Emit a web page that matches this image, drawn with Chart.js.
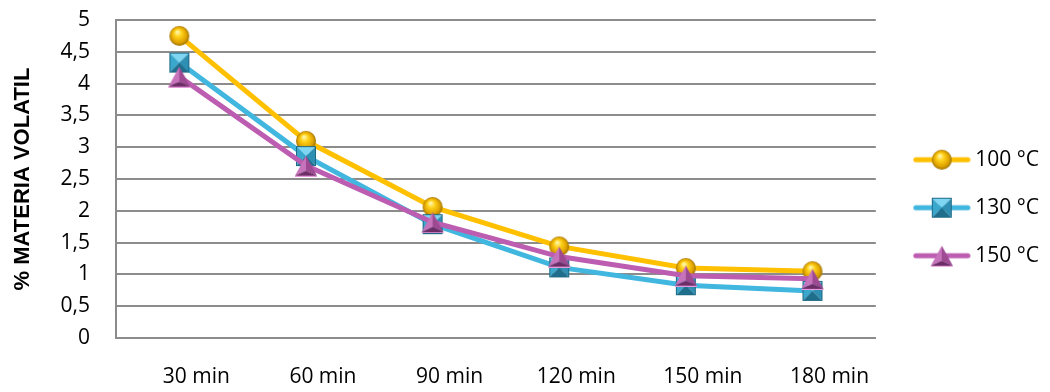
<!DOCTYPE html>
<html>
<head>
<meta charset="utf-8">
<script src="https://cdn.jsdelivr.net/npm/chart.js@4.4.1/dist/chart.umd.min.js"></script>
<style>
  html, body { margin: 0; padding: 0; background: #ffffff; }
  #wrap { position: relative; width: 1050px; height: 392px; }
</style>
</head>
<body>
<div id="wrap"><canvas id="c" width="1050" height="392"></canvas></div>
<script>
const categories = ['30 min', '60 min', '90 min', '120 min', '150 min', '180 min'];
const seriesNames = ['100 °C', '130 °C', '150 °C'];
const values100 = [4.75, 3.10, 2.06, 1.44, 1.10, 1.05];
const values130 = [4.33, 2.86, 1.79, 1.11, 0.83, 0.74];
const values150 = [4.11, 2.71, 1.82, 1.28, 0.98, 0.93];
const yTicks = [0, 0.5, 1, 1.5, 2, 2.5, 3, 3.5, 4, 4.5, 5];
const yTitle = '% MATERIA VOLATIL';

const colors = ['#FFC000', '#41B6DF', '#BD5DB1'];

function makeSphere() {
  const s = 22, c = document.createElement('canvas');
  c.width = s; c.height = s;
  const g = c.getContext('2d');
  const r = 10, cx = s / 2, cy = s / 2;
  const grad = g.createRadialGradient(cx - 2, cy - 4, 1, cx, cy, r);
  grad.addColorStop(0, '#FFF3A0');
  grad.addColorStop(0.3, '#FFD21A');
  grad.addColorStop(0.75, '#E0A300');
  grad.addColorStop(1, '#9C7200');
  g.fillStyle = grad;
  g.beginPath(); g.arc(cx, cy, r, 0, Math.PI * 2); g.fill();
  return c;
}
function makeSquare() {
  const s = 22, c = document.createElement('canvas');
  c.width = s; c.height = s;
  const g = c.getContext('2d');
  const a = 1, b = 21, m = 11;
  const tri = (pts, col) => { g.fillStyle = col; g.beginPath(); g.moveTo(pts[0], pts[1]); g.lineTo(pts[2], pts[3]); g.lineTo(pts[4], pts[5]); g.closePath(); g.fill(); };
  tri([a, a, b, a, m, m], '#7FD6F2');
  tri([a, a, a, b, m, m], '#3AA7CD');
  tri([b, a, b, b, m, m], '#2E8FB3');
  tri([a, b, b, b, m, m], '#1F6E8C');
  g.strokeStyle = '#1E6A86'; g.lineWidth = 1; g.strokeRect(a + 0.5, a + 0.5, b - a - 1, b - a - 1);
  return c;
}
function makeTriangle() {
  const w = 24, h = 22, c = document.createElement('canvas');
  c.width = w; c.height = h;
  const g = c.getContext('2d');
  const top = [12, 1], bl = [1, 21], br = [23, 21], ctr = [12, 16];
  const tri = (p1, p2, p3, col) => { g.fillStyle = col; g.beginPath(); g.moveTo(p1[0], p1[1]); g.lineTo(p2[0], p2[1]); g.lineTo(p3[0], p3[1]); g.closePath(); g.fill(); };
  tri(top, bl, ctr, '#C773BC');
  tri(top, br, ctr, '#9E4A93');
  tri(bl, br, ctr, '#6E2D66');
  g.strokeStyle = '#E49ADB'; g.lineWidth = 1; g.beginPath(); g.moveTo(1, 21.5); g.lineTo(23, 21.5); g.stroke();
  return c;
}
const markers = [makeSphere(), makeSquare(), makeTriangle()];

const ICON_W = 74, ICON_MARGIN = 16;
function makeLegendIcon(i) {
  const h = 24, c = document.createElement('canvas');
  c.width = ICON_W; c.height = h;
  const g = c.getContext('2d');
  g.strokeStyle = colors[i]; g.lineWidth = 5; g.lineCap = 'round';
  g.beginPath(); g.moveTo(ICON_MARGIN + 3, h / 2); g.lineTo(ICON_W - 3, h / 2); g.stroke();
  const m = markers[i];
  const cx = ICON_MARGIN + (ICON_W - ICON_MARGIN) / 2;
  g.drawImage(m, Math.round(cx - m.width / 2), Math.round((h - m.height) / 2));
  return c;
}
const legendIcons = [0, 1, 2].map(makeLegendIcon);

const seriesValues = [values100, values130, values150];
const datasets = seriesValues.map((vals, i) => ({
  label: seriesNames[i],
  data: vals,
  borderColor: colors[i],
  backgroundColor: colors[i],
  borderWidth: 5,
  pointStyle: markers[i],
  pointRadius: 10,
  pointHoverRadius: 10,
  tension: 0,
  order: 3 - i
}));

const FONT = 'Open Sans';

new Chart(document.getElementById('c'), {
  type: 'line',
  data: { labels: categories, datasets },
  options: {
    responsive: false,
    animation: false,
    devicePixelRatio: 1,
    layout: { padding: { top: 7, right: 1, bottom: 2, left: 9 } },
    plugins: {
      tooltip: { enabled: false },
      legend: {
        position: 'right',
        align: 'center',
        title: { display: true, text: ' ', font: { size: 12 }, padding: 2 },
        labels: {
          usePointStyle: true,
          pointStyleWidth: 62,
          padding: 27,
          color: '#000000',
          font: { family: FONT, size: 21 },
          generateLabels: (chart) => chart.data.datasets.map((ds, i) => ({
            text: ds.label,
            pointStyle: legendIcons[i],
            fillStyle: colors[i],
            strokeStyle: colors[i],
            lineWidth: 0,
            hidden: false,
            datasetIndex: i,
            fontColor: '#000000'
          }))
        }
      }
    },
    scales: {
      x: {
        type: 'category',
        offset: true,
        grid: { display: false, drawTicks: false },
        border: { display: true, color: '#8C8C8C', width: 2 },
        ticks: { color: '#000000', font: { family: FONT, size: 21 }, padding: 26, maxRotation: 0, minRotation: 0, autoSkip: false, labelOffset: 17 },
        afterFit: (s) => { s.height = 52; }
      },
      y: {
        min: 0, max: 5,
        afterBuildTicks: (axis) => { axis.ticks = yTicks.map(v => ({ value: v })); },
        grid: { color: '#8C8C8C', lineWidth: 2, drawTicks: false },
        border: { display: true, color: '#8C8C8C', width: 2 },
        ticks: {
          color: '#000000',
          autoSkip: false,
          font: { family: FONT, size: 21 },
          padding: 26,
          callback: (v) => String(v).replace('.', ',')
        },
        title: {
          display: true,
          text: yTitle,
          color: '#000000',
          font: { family: 'Liberation Sans', size: 22, weight: 'bold' },
          padding: { top: 1, bottom: 20 }
        },
        afterFit: (s) => { s.width = 107; s.paddingTop = 20; s.paddingBottom = 0; }
      }
    }
  }
});
</script>
</body>
</html>
